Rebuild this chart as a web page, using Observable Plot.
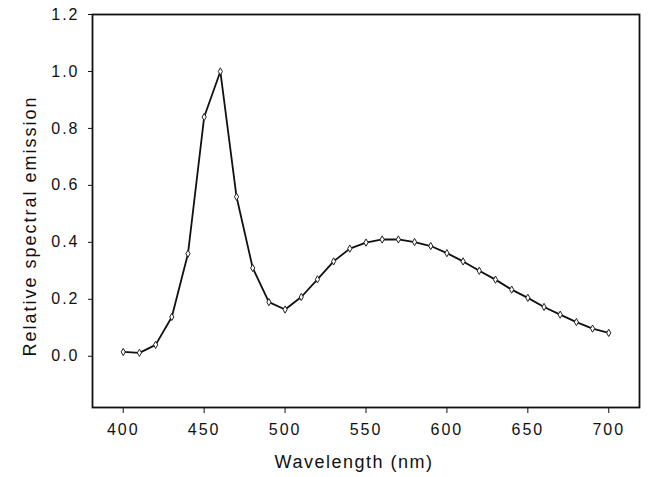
<!DOCTYPE html>
<html>
<head>
<meta charset="utf-8">
<script src="https://cdn.jsdelivr.net/npm/d3@7"></script>
<script src="https://cdn.jsdelivr.net/npm/@observablehq/plot@0.6"></script>
<style>
  html, body { margin: 0; padding: 0; background: #fff; }
  #chart svg { font-family: "Liberation Sans", Arial, sans-serif; }
  #chart svg g[aria-label="x-axis tick label"] text,
  #chart svg g[aria-label="y-axis tick label"] text { letter-spacing: 2px; }
</style>
</head>
<body>
<div id="chart"></div>
<script>
const wavelengths = [400,410,420,430,440,450,460,470,480,490,500,510,520,530,540,550,560,570,580,590,600,610,620,630,640,650,660,670,680,690,700];
const emission = [0.015,0.012,0.04,0.138,0.36,0.84,1.0,0.56,0.31,0.19,0.164,0.208,0.27,0.333,0.378,0.399,0.41,0.41,0.401,0.387,0.362,0.333,0.30,0.269,0.234,0.205,0.173,0.146,0.12,0.097,0.082];
const xTicks = [400,450,500,550,600,650,700];
const yTicks = [0,0.2,0.4,0.6,0.8,1.0,1.2];
const xLabel = "Wavelength (nm)";
const yLabel = "Relative spectral emission";

const data = wavelengths.map((w, i) => ({w, v: emission[i]}));

const chart = Plot.plot({
  width: 649,
  height: 477,
  marginLeft: 92,
  marginRight: 10,
  marginTop: 14,
  marginBottom: 70,
  x: {domain: [381, 719]},
  y: {domain: [-0.18, 1.2]},
  marks: [
    Plot.frame({stroke: "#111", strokeWidth: 1.8}),
    Plot.axisX({ticks: xTicks, tickSize: 6, tickPadding: 10, fontSize: 16, color: "#111", label: null}),
    Plot.axisY({ticks: yTicks, tickSize: 4, tickPadding: 9, fontSize: 16, tickFormat: d3.format(".1f"), color: "#111", label: null}),
    Plot.text([xLabel], {frameAnchor: "bottom", dy: 55, dx: -12, text: d => d, fontSize: 18, fill: "#111",
      textAnchor: "middle", lineAnchor: "middle"}),
    Plot.text([yLabel], {frameAnchor: "left", rotate: -90, dx: -62, dy: 15, text: d => d, fontSize: 18, fill: "#111",
      textAnchor: "middle", lineAnchor: "middle"}),
    Plot.line(data, {x: "w", y: "v", stroke: "#111", strokeWidth: 1.8}),
    Plot.dot(data, {x: "w", y: "v", symbol: "diamond", r: 2.2, stroke: "#222", fill: "white", strokeWidth: 1})
  ]
});
chart.querySelectorAll("text").forEach(t => {
  if (t.textContent === xLabel) t.style.letterSpacing = "1.5px";
  if (t.textContent === yLabel) t.style.letterSpacing = "2px";
});
document.getElementById("chart").appendChild(chart);
</script>
</body>
</html>
